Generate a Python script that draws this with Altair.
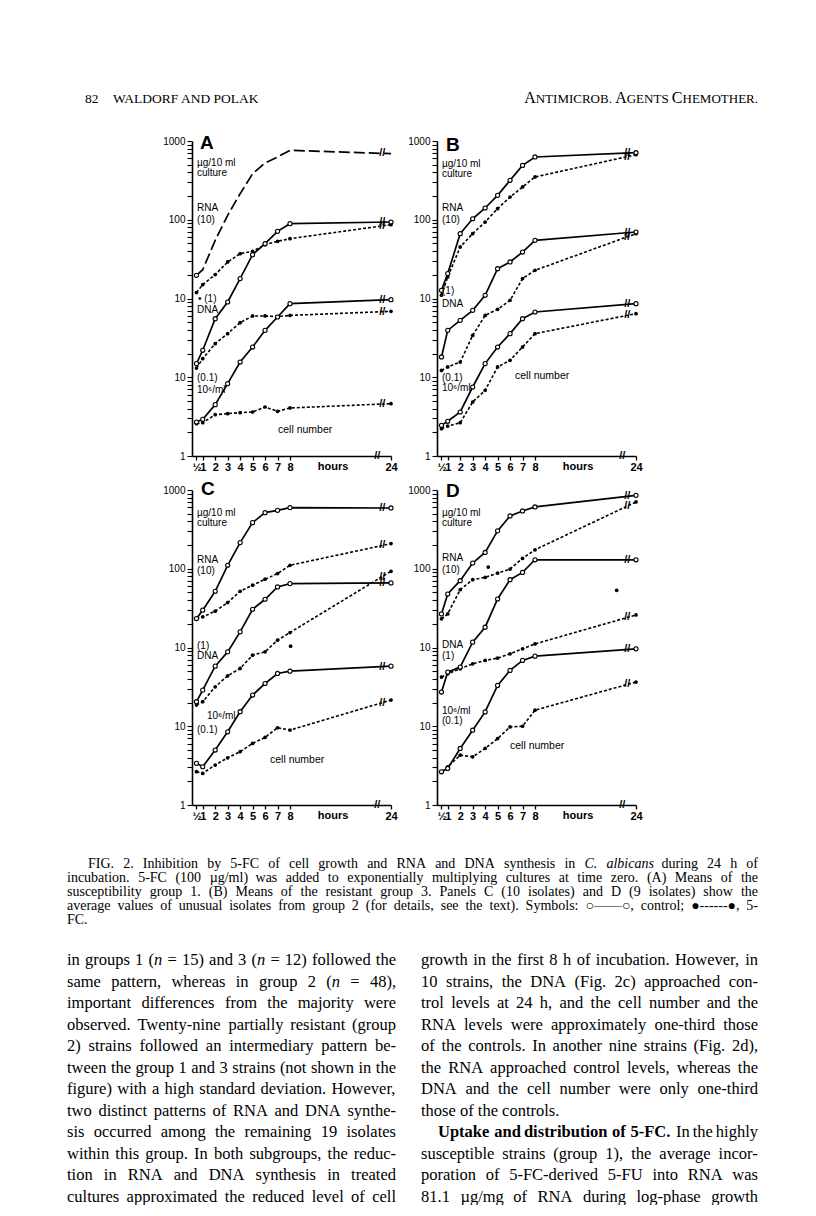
import math
import altair as alt
import pandas as pd

# ---------------------------------------------------------------- data
HOURS = [0.5, 1, 2, 3, 4, 5, 6, 7, 8, 24]

# values read on the figure's 4-decade log axis (bottom = 1, top = 10 000)
# Panel A - susceptibility group 1
A_RNA_CONTROL = [197, 232, 548, 1138, 2143, 3846, 5257, 6266, 7620, 6906]
A_RNA_5FC = [119, 150, 201, 291, 371, 397, 483, 532, 575, 866]
A_DNA_CONTROL = [14.9, 22, 55.4, 90.3, 179, 360, 497, 713, 892, 936]
A_DNA_5FC = [13.1, 17.2, 26.7, 35.8, 49.3, 60, 60, 59, 61, 68.7]
A_CELL_CONTROL = [2.70, 2.92, 4.49, 8.29, 15.6, 24.2, 39.4, 58.2, 86, 96.7]
A_CELL_5FC = [2.57, 2.65, 3.35, 3.45, 3.55, 3.62, 4.19, 3.69, 4.07, 4.62]
# Panel B - resistant group 3
B_RNA_CONTROL = [127, 207, 666, 1030, 1410, 2040, 3170, 4900, 6270, 7100]
B_RNA_5FC = [110, 188, 451, 666, 936, 1383, 1945, 2606, 3491, 6702]
B_DNA_CONTROL = [18.1, 39.4, 52.8, 70.8, 110, 239, 291, 389, 548, 699]
B_DNA_5FC = [12.2, 13.5, 15.6, 34, 61, 72.8, 94.8, 179, 228, 666]
B_CELL_CONTROL = [2.45, 2.76, 3.62, 7.52, 14.9, 24.2, 35.8, 55.4, 67.4, 86]
B_CELL_5FC = [2.22, 2.40, 2.65, 4.85, 6.82, 13.5, 16.4, 24.2, 35.8, 64.2]
# Panel C - 10 isolates of group 2
C_RNA_CONTROL = [233, 298, 518, 1107, 2148, 3852, 5157, 5521, 5970, 5912]
C_RNA_5FC = [233, 245, 289, 372, 518, 618, 736, 868, 1107, 2085]
C_DNA_CONTROL = [20.5, 28.8, 58, 88, 158, 306, 410, 588, 648, 661]
C_DNA_5FC = [18.6, 20.5, 31.7, 43.7, 54.2, 80, 88, 124, 155, 929]
C_CELL_CONTROL = [3.38, 3.06, 4.99, 8.51, 15.3, 24.9, 34.9, 46.8, 50.1, 58]
C_CELL_5FC = [2.65, 2.52, 3.22, 3.98, 4.75, 6.06, 7.21, 9.57, 8.94, 21.5]
# Panel D - 9 isolates of group 2
D_RNA_CONTROL = [267, 478, 705, 1180, 1610, 3027, 4688, 5420, 6092, 8558]
D_RNA_5FC = [231, 267, 542, 726, 777, 881, 991, 1352, 1741, 7047]
D_DNA_CONTROL = [27.2, 48.7, 56.4, 117, 181, 413, 726, 899, 1300, 1300]
D_DNA_5FC = [42.1, 46.4, 53.7, 62.1, 68.5, 73.3, 83.2, 96.2, 111, 259]
D_CELL_CONTROL = [2.64, 2.91, 5.22, 8.9, 15.2, 33, 51.2, 68.5, 77.7, 96.2]
D_CELL_5FC = [2.64, 3.06, 4.29, 4.09, 5.22, 6.98, 9.81, 10, 16, 36.4]

# isolated symbols printed on the figure (axis position, value)
STRAY_PANEL = ["C", "D", "D"]
STRAY_POS = [8.05, 4.25, 14.55]
STRAY_VALUE = [104, 1052, 532]

Y_TICK_LABELS = {10000: "1000", 1000: "100", 100: "10", 10: "10", 1: "1"}
X_TICK_HOURS = [0.5, 1, 2, 3, 4, 5, 6, 7, 8, 24]

PANELS = {
    "A": {("RNA", "control"): A_RNA_CONTROL, ("RNA", "5-FC"): A_RNA_5FC,
          ("DNA", "control"): A_DNA_CONTROL, ("DNA", "5-FC"): A_DNA_5FC,
          ("cell", "control"): A_CELL_CONTROL, ("cell", "5-FC"): A_CELL_5FC},
    "B": {("RNA", "control"): B_RNA_CONTROL, ("RNA", "5-FC"): B_RNA_5FC,
          ("DNA", "control"): B_DNA_CONTROL, ("DNA", "5-FC"): B_DNA_5FC,
          ("cell", "control"): B_CELL_CONTROL, ("cell", "5-FC"): B_CELL_5FC},
    "C": {("RNA", "control"): C_RNA_CONTROL, ("RNA", "5-FC"): C_RNA_5FC,
          ("DNA", "control"): C_DNA_CONTROL, ("DNA", "5-FC"): C_DNA_5FC,
          ("cell", "control"): C_CELL_CONTROL, ("cell", "5-FC"): C_CELL_5FC},
    "D": {("RNA", "control"): D_RNA_CONTROL, ("RNA", "5-FC"): D_RNA_5FC,
          ("DNA", "control"): D_DNA_CONTROL, ("DNA", "5-FC"): D_DNA_5FC,
          ("cell", "control"): D_CELL_CONTROL, ("cell", "5-FC"): D_CELL_5FC},
}

# ---------------------------------------------------------------- layout constants
W, H = 199, 315
X_MIN, X_24 = 0.14, 16.1          # broken time axis: 24 h drawn at 16.1
X_AXIS_BREAK, X_LINE_BREAK = 15.0, 15.4
X_HOURS_LABEL = 11.45
FIG_FONT = "Liberation Sans"
PAGE_FONT = "Liberation Serif"
A_ORIGIN = (192, 139)
C_ORIGIN = (192, 488)

rows = []
for pname, series in PANELS.items():
    for (measure, trt), vals in series.items():
        for h, v in zip(HOURS, vals):
            rows.append(dict(panel=pname, measure=measure, trt=trt, hours=h, value=v))
df = pd.DataFrame(rows)

brk = []
for pname, series in PANELS.items():
    for (measure, trt), vals in series.items():
        t = (X_LINE_BREAK - 8) / (X_24 - 8)
        lv = math.log10(vals[-2]) + t * (math.log10(vals[-1]) - math.log10(vals[-2]))
        brk.append(dict(panel=pname, xpos=X_LINE_BREAK, value=10 ** lv))
brk_df = pd.DataFrame(brk)

stray_df = pd.DataFrame(dict(panel=STRAY_PANEL, xpos=STRAY_POS, value=STRAY_VALUE))

XS = alt.Scale(domain=[X_MIN, X_24], nice=False, zero=False)
YS = alt.Scale(type="log", domain=[1, 10000], nice=False)

x_label_expr = ("datum.value < 0.9 ? '½' : (datum.value > 12 ? '24' : format(datum.value, 'd'))")
XAXIS = alt.Axis(
    values=[h if h <= 8 else X_24 for h in X_TICK_HOURS], labelExpr=x_label_expr,
    title=None, grid=False, domainColor="black", domainWidth=1.6, tickColor="black",
    tickWidth=1.3, tickSize=4, labelFont=FIG_FONT, labelFontSize=11, labelFontWeight="bold",
    labelColor="black", labelPadding=1, labelOverlap=False, labelFlush=False)

y_vals = [m * 10 ** e for e in range(4) for m in range(1, 10)] + [10000]
y_label_expr = " : ".join(f"datum.value == {k} ? '{v}'" for k, v in Y_TICK_LABELS.items()) + " : ''"
YAXIS = alt.Axis(
    values=y_vals, labelExpr=y_label_expr, title=None, grid=False, domainColor="black",
    domainWidth=1.6, tickColor="black", tickWidth=1.1, tickSize=5, labelFont=FIG_FONT,
    labelFontSize=10, labelColor="black", labelPadding=2, labelOverlap=False, labelFlush=False)

# ---------------------------------------------------------------- text helpers
TNR = {" ": 250, "!": 333, "(": 333, ")": 333, ",": 250, "-": 333, ".": 250, "/": 278,
       ":": 278, ";": 278, "=": 564, "0": 500, "1": 500, "2": 500, "3": 500, "4": 500,
       "5": 500, "6": 500, "7": 500, "8": 500, "9": 500, "A": 722, "B": 667, "C": 667,
       "D": 722, "E": 611, "F": 556, "G": 722, "H": 722, "I": 333, "J": 389, "K": 722,
       "L": 611, "M": 889, "N": 722, "O": 722, "P": 556, "Q": 722, "R": 667, "S": 556,
       "T": 611, "U": 722, "V": 722, "W": 944, "X": 722, "Y": 722, "Z": 611, "a": 444,
       "b": 500, "c": 444, "d": 500, "e": 444, "f": 333, "g": 500, "h": 500, "i": 278,
       "j": 278, "k": 500, "l": 278, "m": 778, "n": 500, "o": 500, "p": 500, "q": 500,
       "r": 333, "s": 389, "t": 278, "u": 500, "v": 500, "w": 722, "x": 500, "y": 500,
       "z": 444, "µ": 500, "—": 1000, "○": 600, "●": 600}


def tw(s, fs, style="r"):
    w = sum(TNR.get(c, 500) for c in s) / 1000.0 * fs
    return w * (1.12 if style == "b" else 1.0)


def layout_line(segs, x0, x1, y, fs, justify, origin):
    words, cur = [], []
    for text, st in segs:
        parts = text.split(" ")
        for k, p in enumerate(parts):
            if k > 0 and cur:
                words.append(cur)
                cur = []
            if p:
                cur.append((p, st))
    if cur:
        words.append(cur)
    widths = [sum(tw(p, fs, st) for p, st in wd) for wd in words]
    space = tw(" ", fs)
    if justify and len(words) > 1:
        gap = (x1 - x0 - sum(widths)) / (len(words) - 1)
    else:
        gap = space
    out = []
    x = x0
    for i, (wd, wdt) in enumerate(zip(words, widths)):
        if justify and i == len(words) - 1 and len(words) > 1:
            x = x1 - wdt
        px = x
        for p, st in wd:
            out.append(dict(px=px - origin[0], py=y - origin[1], txt=p, size=fs,
                            style=st, family="serif"))
            px += tw(p, fs, st)
        x += wdt + gap
    return out


def text_layers(tdf):
    layers = []
    for (fam, st), g in tdf.groupby(["family", "style"]):
        mk = dict(font=FIG_FONT if fam == "sans" else PAGE_FONT, align="left",
                  baseline="alphabetic", color="black")
        if st == "i":
            mk["fontStyle"] = "italic"
        if st == "b":
            mk["fontWeight"] = "bold"
        layers.append(alt.Chart(g.reset_index(drop=True)).mark_text(**mk).encode(
            x=alt.X("px:Q", scale=None, axis=None),
            y=alt.Y("py:Q", scale=None, axis=None),
            text="txt:N",
            size=alt.Size("size:Q", scale=None, legend=None)))
    return layers


# ---------------------------------------------------------------- panel labels
def lab(txt, px, py, size=10, style="r"):
    return dict(px=px, py=py, txt=txt, size=size, style=style, family="sans")


PANEL_LABELS = {
    "A": [lab("A", 8, 8, 19, "b"), lab("µg/10 ml", 5, 24.5), lab("culture", 5, 34.5),
          lab("RNA", 5, 69.5), lab("(10)", 5, 81.5), lab("• (1)", 6, 160.5),
          lab("DNA", 5, 171.5), lab("(0.1)", 5, 239.5), lab("10⁶/ml", 5, 251.5),
          lab("cell number", 86, 291.5, 10.5)],
    "B": [lab("B", 9, 10, 19, "b"), lab("µg/10 ml", 5, 26), lab("culture", 5, 36),
          lab("RNA", 5, 69.5), lab("(10)", 5, 81.5), lab("(1)", 5, 152.5),
          lab("DNA", 5, 165.5), lab("(0.1)", 5, 239.5), lab("10⁶/ml", 5, 249.5),
          lab("cell number", 78, 237.5, 10.5)],
    "C": [lab("C", 9, 5, 19, "b"), lab("µg/10 ml", 5, 25.5), lab("culture", 5, 35.5),
          lab("RNA", 5, 72.5), lab("(10)", 5, 83.5), lab("(1)", 5, 158.5),
          lab("DNA", 5, 168.5), lab("10⁶/ml", 15, 228.5), lab("(0.1)", 5, 242.5),
          lab("cell number", 78, 272.5, 10.5)],
    "D": [lab("D", 9, 7, 19, "b"), lab("µg/10 ml", 5, 25.5), lab("culture", 5, 35.5),
          lab("RNA", 5, 70.5), lab("(10)", 5, 82.5), lab("DNA", 5, 157.5),
          lab("(1)", 5, 168.5), lab("10⁶/ml", 5, 223.5), lab("(0.1)", 5, 233.5),
          lab("cell number", 73, 258.5, 10.5)],
}

# ---------------------------------------------------------------- page text
HEADER = [("82", 85, 101, 13.5), ("WALDORF AND POLAK", 113, 101, 13.5)]
RIGHT_HEADER = [("A", 16), ("NTIMICROB. ", 13), ("A", 16), ("GENTS ", 13),
                ("C", 16), ("HEMOTHER.", 13)]
RIGHT_EDGE = 758

CAPTION = [
    [("FIG. 2. Inhibition by 5-FC of cell growth and RNA and DNA synthesis in ", "r"),
     ("C. albicans", "i"), (" during 24 h of", "r")],
    [("incubation. 5-FC (100 µg/ml) was added to exponentially multiplying cultures at time zero. (A) Means of the", "r")],
    [("susceptibility group 1. (B) Means of the resistant group 3. Panels C (10 isolates) and D (9 isolates) show the", "r")],
    [("average values of unusual isolates from group 2 (for details, see the text). Symbols: ○——○, control; ●------●, 5-", "r")],
    [("FC.", "r")],
]
BODY_LEFT = [
    [("in groups 1 (", "r"), ("n", "i"), (" = 15) and 3 (", "r"), ("n", "i"), (" = 12) followed the", "r")],
    [("same pattern, whereas in group 2 (", "r"), ("n", "i"), (" = 48),", "r")],
    [("important differences from the majority were", "r")],
    [("observed. Twenty-nine partially resistant (group", "r")],
    [("2) strains followed an intermediary pattern be-", "r")],
    [("tween the group 1 and 3 strains (not shown in the", "r")],
    [("figure) with a high standard deviation. However,", "r")],
    [("two distinct patterns of RNA and DNA synthe-", "r")],
    [("sis occurred among the remaining 19 isolates", "r")],
    [("within this group. In both subgroups, the reduc-", "r")],
    [("tion in RNA and DNA synthesis in treated", "r")],
    [("cultures approximated the reduced level of cell", "r")],
]
BODY_RIGHT = [
    [("growth in the first 8 h of incubation. However, in", "r")],
    [("10 strains, the DNA (Fig. 2c) approached con-", "r")],
    [("trol levels at 24 h, and the cell number and the", "r")],
    [("RNA levels were approximately one-third those", "r")],
    [("of the controls. In another nine strains (Fig. 2d),", "r")],
    [("the RNA approached control levels, whereas the", "r")],
    [("DNA and the cell number were only one-third", "r")],
    [("those of the controls.", "r")],
    [("Uptake and distribution of 5-FC.", "b"), (" In the highly", "r")],
    [("susceptible strains (group 1), the average incor-", "r")],
    [("poration of 5-FC-derived 5-FU into RNA was", "r")],
    [("81.1 µg/mg of RNA during log-phase growth", "r")],
]

# header rows (attached to panel A)
header_rows = []
for txt, x, y, fs in HEADER:
    header_rows.append(dict(px=x - A_ORIGIN[0], py=y - A_ORIGIN[1], txt=txt, size=fs,
                            style="r", family="serif"))
rh_width = sum(tw(t, fs) for t, fs in RIGHT_HEADER)
x = RIGHT_EDGE - rh_width
for t, fs in RIGHT_HEADER:
    header_rows.append(dict(px=x - A_ORIGIN[0], py=101 - A_ORIGIN[1], txt=t, size=fs,
                            style="r", family="serif"))
    x += tw(t, fs)

# caption + body (attached to panel C)
page_rows = []
CAP_FS, CAP_Y0, CAP_DY = 14, 866, 14
for i, segs in enumerate(CAPTION):
    x0 = 88 if i == 0 else 67
    page_rows += layout_line(segs, x0, RIGHT_EDGE, CAP_Y0 + i * CAP_DY, CAP_FS,
                             i < len(CAPTION) - 1, C_ORIGIN)
BODY_FS, BODY_Y0, BODY_DY = 16.5, 963, 21.5
LEFT_COL, RIGHT_COL = (67, 396), (421, RIGHT_EDGE)
for i, segs in enumerate(BODY_LEFT):
    page_rows += layout_line(segs, LEFT_COL[0], LEFT_COL[1], BODY_Y0 + i * BODY_DY,
                             BODY_FS, True, C_ORIGIN)
for i, segs in enumerate(BODY_RIGHT):
    x0 = RIGHT_COL[0] + (17 if i == 8 else 0)
    page_rows += layout_line(segs, x0, RIGHT_COL[1], BODY_Y0 + i * BODY_DY,
                             BODY_FS, i != 7, C_ORIGIN)


# ---------------------------------------------------------------- panels
def make_panel(letter, extra_text):
    d = df[df.panel == letter]
    base = alt.Chart(d).transform_calculate(
        xpos=f"datum.hours == 24 ? {X_24} : datum.hours")
    X = alt.X("xpos:Q", scale=XS, axis=XAXIS)
    Y = alt.Y("value:Q", scale=YS, axis=YAXIS)
    special = "(datum.trt == 'control' && datum.measure == 'RNA')" if letter == "A" else "false"
    layers = [
        base.transform_filter(f"datum.trt == 'control' && !{special}")
        .mark_line(color="black", strokeWidth=1.7).encode(x=X, y=Y, detail="measure:N"),
        base.transform_filter("datum.trt == '5-FC'")
        .mark_line(color="black", strokeWidth=1.6, strokeDash=[3, 2])
        .encode(x=X, y=Y, detail="measure:N"),
    ]
    if letter == "A":
        layers.append(base.transform_filter(special)
                      .mark_line(color="black", strokeWidth=1.7, strokeDash=[11, 4])
                      .encode(x=X, y=Y))
    layers += [
        base.transform_filter("datum.trt == '5-FC'")
        .mark_circle(color="black", size=14, opacity=1).encode(x=X, y=Y),
        base.transform_filter(f"datum.trt == 'control' && (!{special} || datum.hours == 0.5)")
        .mark_point(shape="circle", filled=True, fill="white", stroke="black",
                    strokeWidth=1.1, size=17, opacity=1).encode(x=X, y=Y),
        alt.Chart(brk_df[brk_df.panel == letter]).mark_text(
            text="//", font=FIG_FONT, fontSize=11, fontWeight="bold", color="black",
            baseline="middle", align="center").encode(x=X, y=Y),
        alt.Chart(pd.DataFrame({"xpos": [X_AXIS_BREAK]})).mark_text(
            text="//", font=FIG_FONT, fontSize=11, fontWeight="bold", color="black",
            baseline="middle", align="center").encode(x=X, y=alt.value(H)),
        alt.Chart(pd.DataFrame({"xpos": [X_HOURS_LABEL]})).mark_text(
            text="hours", font=FIG_FONT, fontSize=11, fontWeight="bold", color="black",
            baseline="top", align="center").encode(x=X, y=alt.value(H + 5)),
    ]
    sd = stray_df[stray_df.panel == letter]
    if len(sd):
        layers.append(alt.Chart(sd).mark_circle(color="black", size=14, opacity=1)
                      .encode(x=X, y=Y))
    tdf = pd.DataFrame(PANEL_LABELS[letter] + extra_text)
    return (alt.layer(alt.layer(*layers), *text_layers(tdf))
            .resolve_scale(x="independent", y="independent", size="independent")
            .properties(width=W, height=H))


pA = make_panel("A", header_rows)
pB = make_panel("B", [])
pC = make_panel("C", page_rows)
pD = make_panel("D", [])

chart = (alt.concat(pA, pB, pC, pD, columns=2, spacing={"row": 34, "column": 46},
                    bounds="flush")
         .properties(padding={"left": 59, "top": 82, "right": 0, "bottom": 0})
         .configure(background="white")
         .configure_view(stroke=None))

chart.save("out.html", embed_options={"renderer": "svg", "actions": False})
